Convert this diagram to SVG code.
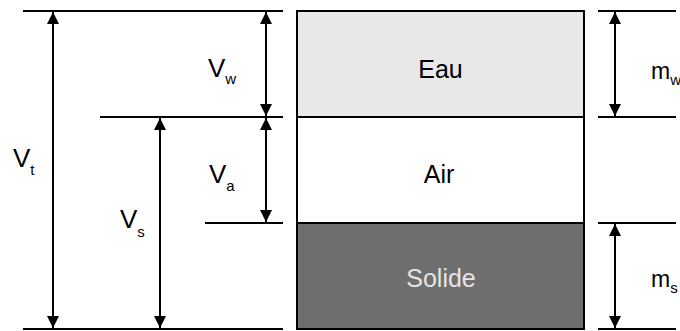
<svg xmlns="http://www.w3.org/2000/svg" width="680" height="331" viewBox="0 0 680 331">
<defs>
<marker id="ah" viewBox="0 0 10 10" refX="10" refY="5" markerWidth="12" markerHeight="12" markerUnits="userSpaceOnUse" orient="auto-start-reverse">
<path d="M0,0 L10,5 L0,10 Z" fill="#000"/>
</marker>
<style>
.ln{stroke:#000;stroke-width:2;fill:none}
.bx{stroke:#000;stroke-width:2}
.ar{stroke:#000;stroke-width:2;fill:none;marker-start:url(#ah);marker-end:url(#ah)}
.lb{font-family:"Liberation Sans",Arial,sans-serif;font-size:26px;fill:#000}
.sb{font-size:15px}
.ml{font-family:"Liberation Sans",Arial,sans-serif;font-size:23px;fill:#000}
.ct{font-family:"Liberation Sans",Arial,sans-serif;font-size:25px;text-anchor:middle}
</style>
</defs>
<g id="eau">
<rect x="297" y="11" width="287" height="106" fill="#e8e8e8" class="bx"/>
<text x="440.5" y="78" class="ct" fill="#000">Eau</text>
</g>
<g id="air">
<rect x="297" y="117" width="287" height="106" fill="#ffffff" class="bx"/>
<text x="439" y="183" class="ct" fill="#000">Air</text>
</g>
<g id="solide">
<rect x="297" y="223" width="287" height="106" fill="#6e6e6e" class="bx"/>
<text x="441" y="287" class="ct" fill="#e4e4e4">Solide</text>
</g>
<g id="connectors">
<line x1="23" y1="11" x2="283" y2="11" class="ln"/>
<line x1="100" y1="117" x2="283" y2="117" class="ln"/>
<line x1="205" y1="223" x2="283" y2="223" class="ln"/>
<line x1="23" y1="329" x2="283" y2="329" class="ln"/>
<line x1="598" y1="11" x2="676" y2="11" class="ln"/>
<line x1="598" y1="117" x2="676" y2="117" class="ln"/>
<line x1="598" y1="223" x2="676" y2="223" class="ln"/>
<line x1="598" y1="329" x2="676" y2="329" class="ln"/>
<line x1="53" y1="12" x2="53" y2="328" class="ar"/>
<line x1="160" y1="118" x2="160" y2="328" class="ar"/>
<line x1="266" y1="12" x2="266" y2="116" class="ar"/>
<line x1="266" y1="118" x2="266" y2="222" class="ar"/>
<line x1="615" y1="12" x2="615" y2="116" class="ar"/>
<line x1="615" y1="224" x2="615" y2="328" class="ar"/>
</g>
<g id="labels">
<text x="13" y="167" class="lb">V<tspan class="sb" dy="8">t</tspan></text>
<text x="120" y="228" class="lb">V<tspan class="sb" dy="9">s</tspan></text>
<text x="208" y="77" class="lb">V<tspan class="sb" dy="7">w</tspan></text>
<text x="209" y="183" class="lb">V<tspan class="sb" dy="8">a</tspan></text>
<text x="651" y="79" class="ml">m<tspan class="sb" dy="6">w</tspan></text>
<text x="651" y="287" class="ml">m<tspan class="sb" dy="6">s</tspan></text>
</g>
</svg>
